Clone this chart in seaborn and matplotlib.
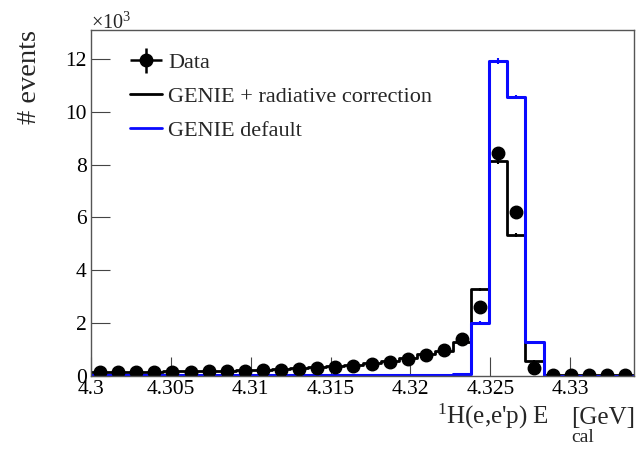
import numpy as np
import pandas as pd
import matplotlib
matplotlib.use("Agg")
import matplotlib.pyplot as plt
import seaborn as sns
from matplotlib.lines import Line2D
from matplotlib.legend_handler import HandlerErrorbar

# binning of E_cal [GeV]
x_lo, x_hi, n_bins = 4.3, 4.334, 30

# counts per bin, in units of 10^3 events
data_k = [0.12, 0.12, 0.13, 0.14, 0.14, 0.15, 0.16, 0.17, 0.19, 0.20,
          0.22, 0.26, 0.29, 0.33, 0.37, 0.43, 0.52, 0.63, 0.78, 0.96,
          1.40, 2.60, 8.43, 6.20, 0.27, 0.04, 0.03, 0.03, 0.03, 0.03]
rad_k = [0.13, 0.14, 0.15, 0.15, 0.16, 0.17, 0.18, 0.19, 0.21, 0.22,
         0.25, 0.28, 0.31, 0.36, 0.40, 0.46, 0.55, 0.66, 0.80, 0.92,
         1.28, 3.27, 8.13, 5.33, 0.56, 0.02, 0.01, 0.01, 0.01, 0.01]
default_k = [0.01, 0.01, 0.01, 0.01, 0.01, 0.01, 0.01, 0.01, 0.01, 0.01,
             0.01, 0.01, 0.01, 0.01, 0.01, 0.01, 0.01, 0.01, 0.01, 0.01,
             0.06, 2.00, 11.92, 10.56, 1.26, 0.0, 0.0, 0.0, 0.0, 0.0]
# small statistical errors (10^3 events)
data_err = [0.01] * 20 + [0.04, 0.05, 0.09, 0.08, 0.02, 0.01, 0.01, 0.01, 0.01, 0.01]
mc_err = [0.01] * 20 + [0.03, 0.06, 0.1, 0.08, 0.03, 0.0, 0.0, 0.0, 0.0, 0.0]

x_ticks = [4.3, 4.305, 4.31, 4.315, 4.32, 4.325, 4.33]
x_tick_labels = ["4.3", "4.305", "4.31", "4.315", "4.32", "4.325", "4.33"]
y_ticks = [0, 2, 4, 6, 8, 10, 12]

edges = np.linspace(x_lo, x_hi, n_bins + 1)
centers = 0.5 * (edges[:-1] + edges[1:])
df = pd.DataFrame({"E": centers, "data": data_k, "rad": rad_k, "default": default_k})

sns.set_style("ticks")
plt.rcParams["font.family"] = ["Liberation Serif", "DejaVu Serif"]
plt.rcParams["mathtext.fontset"] = "custom"
plt.rcParams["mathtext.rm"] = "Liberation Serif"
plt.rcParams["mathtext.it"] = "Liberation Serif:italic"

W, H = 644, 449
fig = plt.figure(figsize=(W / 100, H / 100), dpi=100)
ax = fig.add_axes([91 / W, 1 - 375.6 / H, 543 / W, 345.6 / H])

blue = "#0a0aff"
sns.histplot(data=df, x="E", weights="rad", bins=list(edges), element="step",
             fill=False, color="black", linewidth=2, ax=ax)
ax.errorbar(centers, rad_k, yerr=mc_err, fmt="none", ecolor="black", elinewidth=1.5)
sns.histplot(data=df, x="E", weights="default", bins=list(edges), element="step",
             fill=False, color=blue, linewidth=2.2, ax=ax)
ax.errorbar(centers, default_k, yerr=mc_err, fmt="none", ecolor=blue, elinewidth=1.5)
data_h = ax.errorbar(centers, data_k, yerr=data_err, xerr=0, fmt="o", color="black",
                     ms=9, elinewidth=1.8, capsize=0)

h_rad = Line2D([], [], color="black", lw=2)
h_def = Line2D([], [], color=blue, lw=2)
ax.legend([data_h, h_rad, h_def],
          ["Data", "GENIE + radiative correction", "GENIE default"],
          handler_map={type(data_h): HandlerErrorbar(xerr_size=0.72, yerr_size=0.57)},
          loc="upper left", bbox_to_anchor=(0.0718, 0.935), frameon=False,
          fontsize=16, handlelength=1.44, handletextpad=0.27, labelspacing=0.6,
          borderaxespad=0, borderpad=0)

ax.set_xlim(x_lo, x_hi)
ax.set_ylim(0, 13.1)
ax.set_xticks(x_ticks)
ax.set_xticklabels(x_tick_labels)
ax.set_yticks(y_ticks)
ax.tick_params(direction="in", length=14, width=0.8, labelsize=15.5, pad=3,
               colors="#444444", labelcolor="black")
ax.tick_params(axis="x", pad=3)
for s in ax.spines.values():
    s.set_color("#555555")
    s.set_linewidth(1.0)
ax.set_xlabel("")
ax.set_ylabel("")

# axis titles placed in figure pixels, ROOT style
fig.text(29 / W, 1 - 76.5 / H, "# events", rotation=90, fontsize=20.5,
         ha="center", va="center")
fig.text(635 / W, 1 - 424 / H, "[GeV]", fontsize=18, ha="right", va="baseline")
fig.text(594 / W, 1 - 442 / H, "cal", fontsize=14, ha="right", va="baseline")
fig.text(549 / W, 1 - 424 / H, "$^{1}$H(e,e'p) E", fontsize=18, ha="right",
         va="baseline")
fig.text(91 / W, 1 - 28.5 / H, "×10$^{3}$", fontsize=14.5, ha="left", va="baseline")

fig.savefig("out.png", dpi=100)
